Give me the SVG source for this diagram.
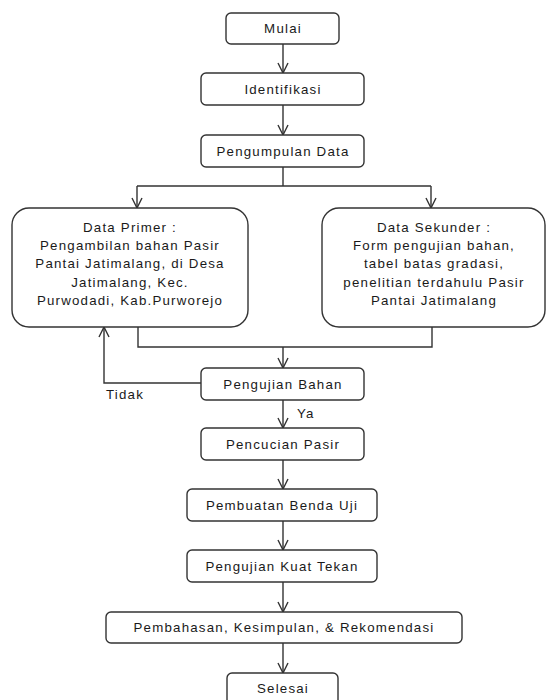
<svg xmlns="http://www.w3.org/2000/svg" width="547" height="700" viewBox="0 0 547 700">
<defs>
<marker id="arr" viewBox="0 0 12 12" refX="11" refY="6" markerWidth="12" markerHeight="12" markerUnits="userSpaceOnUse" orient="auto">
<path d="M1,1 L11,6 L1,11" fill="none" stroke="#333" stroke-width="1.4"/>
</marker>
<style>
.box{fill:#fff;stroke:#333;stroke-width:1.4}
.t{font-family:"Liberation Sans",Arial,sans-serif;font-size:13.3px;fill:#1a1a1a;letter-spacing:1.2px;text-anchor:middle}
.l{font-family:"Liberation Sans",Arial,sans-serif;font-size:13.3px;fill:#1a1a1a;letter-spacing:1.2px}
.c{fill:none;stroke:#333;stroke-width:1.4}
</style>
</defs>
<rect width="547" height="700" fill="#fff"/>
<g id="connectors">
<path class="c" d="M283,44 V73" marker-end="url(#arr)"/>
<path class="c" d="M283,105 V135" marker-end="url(#arr)"/>
<path class="c" d="M283,167 V186 M137,186 H431"/>
<path class="c" d="M137,186 V208" marker-end="url(#arr)"/>
<path class="c" d="M431,186 V208" marker-end="url(#arr)"/>
<path class="c" d="M138,327 V347 H432 V327"/>
<path class="c" d="M283,347 V368" marker-end="url(#arr)"/>
<path class="c" d="M201,383 H104 V327" marker-end="url(#arr)"/>
<path class="c" d="M283,400 V428" marker-end="url(#arr)"/>
<path class="c" d="M283,460 V489" marker-end="url(#arr)"/>
<path class="c" d="M283,521 V550" marker-end="url(#arr)"/>
<path class="c" d="M283,582 V612" marker-end="url(#arr)"/>
<path class="c" d="M283,643 V673" marker-end="url(#arr)"/>
<text class="l" x="106" y="399">Tidak</text>
<text class="l" x="297" y="418">Ya</text>
</g>
<g id="mulai"><rect class="box" x="226" y="13" width="113" height="31" rx="5"/><text class="t" x="283" y="33">Mulai</text></g>
<g id="identifikasi"><rect class="box" x="201" y="73" width="163" height="32" rx="5"/><text class="t" x="283" y="94">Identifikasi</text></g>
<g id="pengumpulan"><rect class="box" x="201" y="135" width="163" height="32" rx="5"/><text class="t" x="283" y="156">Pengumpulan Data</text></g>
<g id="primer"><rect class="box" x="12" y="208" width="236" height="119" rx="17"/>
<text class="t" x="130" y="232">Data Primer :</text>
<text class="t" x="130" y="250">Pengambilan bahan Pasir</text>
<text class="t" x="130" y="268">Pantai Jatimalang, di Desa</text>
<text class="t" x="130" y="287">Jatimalang, Kec.</text>
<text class="t" x="130" y="305">Purwodadi, Kab.Purworejo</text></g>
<g id="sekunder"><rect class="box" x="322" y="208" width="223" height="119" rx="17"/>
<text class="t" x="434" y="232">Data Sekunder :</text>
<text class="t" x="434" y="250">Form pengujian bahan,</text>
<text class="t" x="434" y="268">tabel batas gradasi,</text>
<text class="t" x="434" y="287">penelitian terdahulu Pasir</text>
<text class="t" x="434" y="305">Pantai Jatimalang</text></g>
<g id="pengujian-bahan"><rect class="box" x="201" y="368" width="163" height="32" rx="5"/><text class="t" x="283" y="389">Pengujian Bahan</text></g>
<g id="pencucian"><rect class="box" x="201" y="428" width="163" height="32" rx="5"/><text class="t" x="283" y="449">Pencucian Pasir</text></g>
<g id="pembuatan"><rect class="box" x="187" y="489" width="190" height="32" rx="5"/><text class="t" x="282" y="510">Pembuatan Benda Uji</text></g>
<g id="kuat-tekan"><rect class="box" x="187" y="550" width="190" height="32" rx="5"/><text class="t" x="282" y="571">Pengujian Kuat Tekan</text></g>
<g id="pembahasan"><rect class="box" x="106" y="612" width="356" height="31" rx="5"/><text class="t" x="284" y="632">Pembahasan, Kesimpulan, &amp; Rekomendasi</text></g>
<g id="selesai"><rect class="box" x="227" y="673" width="111" height="40" rx="5"/><text class="t" x="283" y="693">Selesai</text></g>
</svg>
